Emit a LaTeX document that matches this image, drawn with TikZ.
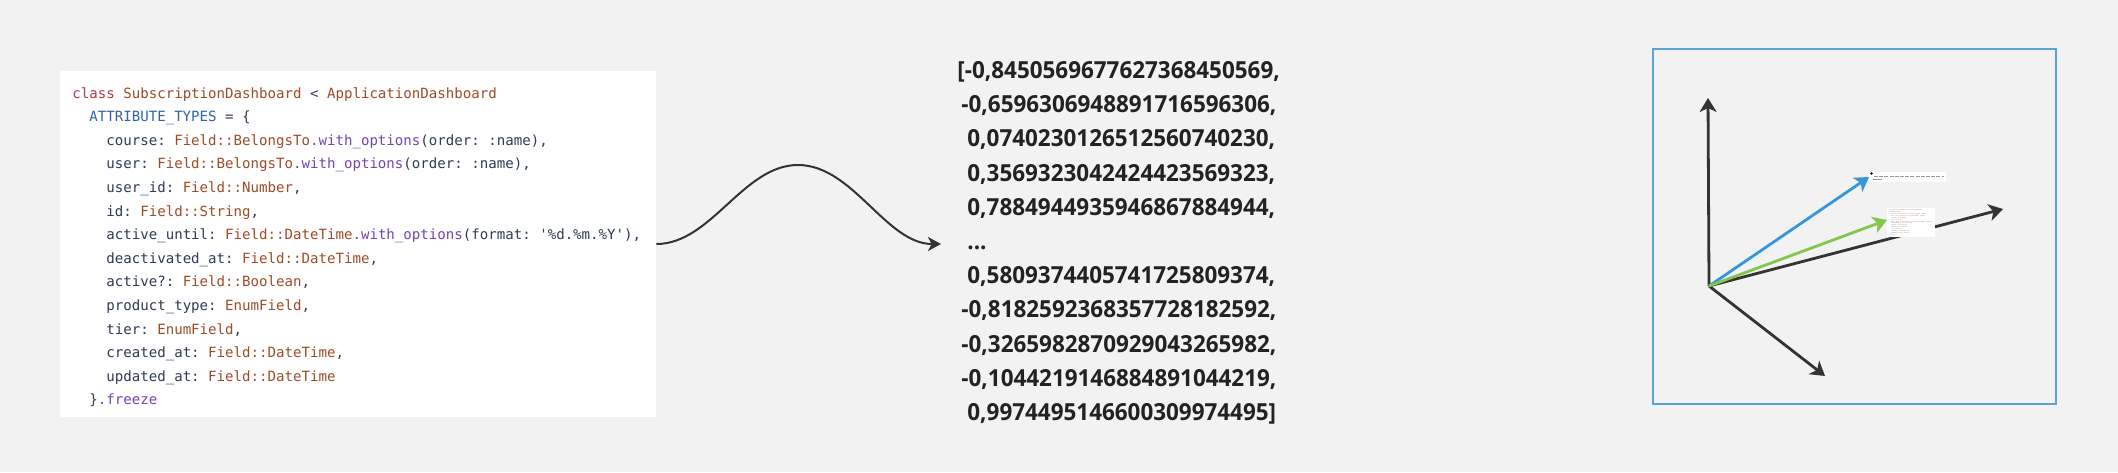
\documentclass[tikz,border=0pt]{standalone}
\usepackage{fontspec}
\setmonofont{DejaVu Sans Mono}
\newfontfamily\numfont[FakeStretch=0.955]{Open Sans}
\usepackage{graphicx}
\usepackage{tikz}
\usetikzlibrary{arrows.meta}

\definecolor{bgcol}{HTML}{F2F2F2}
\definecolor{kwred}{HTML}{B4384A}
\definecolor{cnbrown}{HTML}{9E4B26}
\definecolor{cstblue}{HTML}{2F63A8}
\definecolor{mthpurple}{HTML}{7444B0}
\definecolor{keyslate}{HTML}{2D3B55}
\definecolor{inkdark}{HTML}{222222}
\definecolor{axisdark}{HTML}{333333}
\definecolor{vecblue}{HTML}{3497DC}
\definecolor{vecgreen}{HTML}{84C64A}
\definecolor{frameblue}{HTML}{5BA2D6}

\newcommand{\kw}[1]{\textcolor{kwred}{#1}}
\newcommand{\cn}[1]{\textcolor{cnbrown}{#1}}
\newcommand{\cst}[1]{\textcolor{cstblue}{#1}}
\newcommand{\mth}[1]{\textcolor{mthpurple}{#1}}
\newcommand{\ind}[1]{\phantom{#1}}
\newcommand{\codefont}{\ttfamily\fontsize{7.05}{11.8}\selectfont}

\newcommand{\codelisting}{%
\kw{class} \cn{SubscriptionDashboard} < \cn{ApplicationDashboard}\\
\ind{xx}\cst{ATTRIBUTE\_TYPES} = \{\\
\ind{xxxx}course: \cn{Field::BelongsTo}\mth{.with\_options}(order: :name),\\
\ind{xxxx}user: \cn{Field::BelongsTo}\mth{.with\_options}(order: :name),\\
\ind{xxxx}user\_id: \cn{Field::Number},\\
\ind{xxxx}id: \cn{Field::String},\\
\ind{xxxx}active\_until: \cn{Field::DateTime}\mth{.with\_options}(format: '\%d.\%m.\%Y'),\\
\ind{xxxx}deactivated\_at: \cn{Field::DateTime},\\
\ind{xxxx}active?: \cn{Field::Boolean},\\
\ind{xxxx}product\_type: \cn{EnumField},\\
\ind{xxxx}tier: \cn{EnumField},\\
\ind{xxxx}created\_at: \cn{Field::DateTime},\\
\ind{xxxx}updated\_at: \cn{Field::DateTime}\\
\ind{xx}\}\mth{.freeze}}

\begin{document}
\begin{tikzpicture}[x=0.5pt,y=-0.5pt,
    codebox/.style={fill=white, draw=none, inner sep=0pt,
      minimum width=298pt, minimum height=173pt},
    codetext/.style={font=\codefont, text=keyslate, align=left, inner sep=0pt},
    numtext/.style={font=\numfont\bfseries\fontsize{11.75}{17.1}\selectfont,
      text=inkdark, align=left, inner sep=0pt},
    wave/.style={draw=axisdark, line width=1pt,
      -{Stealth[length=6.5pt,width=7pt,inset=1.8pt]}},
    axis/.style={draw=axisdark, line width=1.4pt,
      -{Stealth[length=7pt,width=8.5pt,inset=2pt]}},
    framebox/.style={draw=frameblue, line width=1.3pt},
    thumb/.style={fill=white, draw=none, inner sep=0pt}]
  \useasboundingbox (0,0) rectangle (2118,472);
  \fill[bgcol] (0,0) rectangle (2118,472);

  \node[codebox] (code) at (358,244) {};
  \node[codetext, anchor=north west] (listing) at (72,87) {\codelisting};

  \node[numtext, anchor=north west] (vec) at (957,61) {[-0,8450569677627368450569,\\
    \hspace*{2pt}-0,6596306948891716596306,\\
    \hspace*{5pt}0,0740230126512560740230,\\
    \hspace*{5pt}0,3569323042424423569323,\\
    \hspace*{5pt}0,7884944935946867884944,\\
    \hspace*{5pt}...\\
    \hspace*{5pt}0,5809374405741725809374,\\
    \hspace*{2pt}-0,8182592368357728182592,\\
    \hspace*{2pt}-0,3265982870929043265982,\\
    \hspace*{2pt}-0,1044219146884891044219,\\
    \hspace*{5pt}0,9974495146600309974495]};

  \coordinate (crest) at (798,165);
  \coordinate (tip) at (941,244);
  \draw[wave] (code.east) .. controls +(55,0) and +(-55,0) .. (crest)
    .. controls +(55,0) and +(-55,0) .. (tip);

  \draw[framebox] (1653,49) rectangle (2056,404);
  \coordinate (o) at (1709,286);
  \coordinate (up) at (1708,98);
  \coordinate (ax) at (2003,209);
  \coordinate (dn) at (1825,376);
  \coordinate (bl) at (1869,177);
  \coordinate (gr) at (1887,220);
  \draw[axis] (o) -- (up);
  \draw[axis] (o) -- (ax);
  \draw[axis] (o) -- (dn);
  \draw[axis, draw=vecblue, fill=vecblue] (o) -- (bl);
  \draw[axis, draw=vecgreen, fill=vecgreen] (o) -- (gr);

  \node[thumb, anchor=north west, minimum width=38.5pt, minimum height=5pt] (blthumb) at (1869,172) {};
  \fill[black] (1871.5,173.5) circle (0.7pt);
  \draw[gray!80, line width=0.5pt, dash pattern=on 2pt off 0.6pt] (1874,176.5) -- (1944,176.5);
  \draw[gray!80, line width=0.5pt] (1873,179.5) -- (1882,179.5);
  \node[thumb, anchor=north west, inner sep=0.6pt] (grthumb) at (1887,208)
    {\scalebox{0.079}{\codefont\color{keyslate}\begin{tabular}{@{}l@{}}\codelisting\end{tabular}}};
\end{tikzpicture}
\end{document}
